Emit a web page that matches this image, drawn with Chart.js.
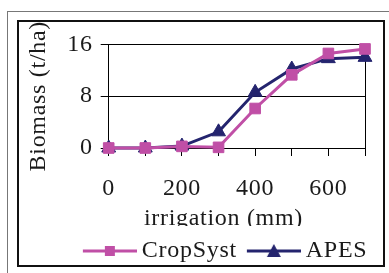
<!DOCTYPE html>
<html>
<head>
<meta charset="utf-8">
<script src="https://cdn.jsdelivr.net/npm/chart.js@4"></script>
<style>
  html, body { margin: 0; padding: 0; background: #fff; }
  body { width: 389px; height: 273px; position: relative; overflow: hidden; }
  /* outer gray frame (top + left only) */
  #outer { position: absolute; left: 7px; top: 11px; width: 400px; height: 300px;
           border-top: 1px solid #777; border-left: 1px solid #777; }
  /* inner black box */
  #box { position: absolute; left: 17px; top: 20px; width: 364px; height: 243px;
         border: 2px solid #111; }
  #box canvas { position: absolute; left: 0; top: 0; }
</style>
</head>
<body>
<div id="outer"></div>
<div id="box"><canvas id="myChart" width="364" height="243"></canvas></div>
<script>
// data
const irrigation = [0, 100, 200, 300, 400, 500, 600, 700];
const cropSyst = [0, 0, 0.25, 0.1, 6.1, 11.3, 14.6, 15.3];
const apes = [0, 0, 0.3, 2.5, 8.6, 12.2, 13.8, 14.0];
const xTickLabels = [0, 200, 400, 600];
const yTickLabels = [0, 8, 16];

const pink = '#c04fa6';
const navy = '#24246e';

Chart.defaults.font.family = "'Liberation Serif', 'Times New Roman', serif";
Chart.defaults.font.size = 24;
Chart.defaults.color = '#1a1a1a';

// legend icon: a line with the marker in the middle
// (the image is wider on the left so the drawn part sits a bit to the right)
function legendIcon(color, style) {
  let c = document.createElement('canvas');
  c.width = 71; c.height = 16;
  let g = c.getContext('2d');
  g.strokeStyle = color; g.lineWidth = 3;
  g.beginPath(); g.moveTo(17, 8); g.lineTo(71, 8); g.stroke();
  g.fillStyle = color;
  if (style === 'rect') {
    g.fillRect(39, 3, 10, 10);
  } else {
    g.beginPath(); g.moveTo(44, 1); g.lineTo(51, 14); g.lineTo(37, 14); g.closePath(); g.fill();
  }
  return c;
}
const icons = [legendIcon(pink, 'rect'), legendIcon(navy, 'triangle')];

// the original text is set a bit wide
const spacing = {
  id: 'spacing',
  beforeLayout(chart) { chart.ctx.letterSpacing = '0.7px'; },
  beforeDraw(chart) { chart.ctx.letterSpacing = '0.7px'; }
};

// hides the lower part of the x title, like in the original
const cutTitle = {
  id: 'cutTitle',
  beforeDatasetsDraw(chart) {
    let ctx = chart.ctx;
    ctx.save();
    ctx.fillStyle = '#fff';
    ctx.fillRect(0, 204, chart.width, 8);
    ctx.restore();
  }
};

let ctx = document.getElementById('myChart').getContext('2d');

new Chart(ctx, {
  type: 'line',
  data: {
    datasets: [{
      label: 'CropSyst',
      data: irrigation.map((x, i) => ({ x: x, y: cropSyst[i] })),
      borderColor: pink,
      backgroundColor: pink,
      borderWidth: 3,
      pointStyle: 'rect',
      pointRadius: 7.5,
      pointHoverRadius: 7.5,
      pointBorderWidth: 1,
      tension: 0,
      clip: false
    }, {
      label: 'APES',
      data: irrigation.map((x, i) => ({ x: x, y: apes[i] })),
      borderColor: navy,
      backgroundColor: navy,
      borderWidth: 3,
      pointStyle: 'triangle',
      pointRadius: 8,
      pointHoverRadius: 8,
      pointBorderWidth: 1,
      tension: 0,
      clip: false
    }]
  },
  options: {
    responsive: false,
    animation: false,
    layout: { padding: { top: 21, right: 15.7, left: 0, bottom: -8 } },
    plugins: {
      tooltip: { enabled: false },
      legend: {
        position: 'bottom',
        align: 'end',
        labels: {
          usePointStyle: true,
          pointStyleWidth: 57,
          boxHeight: 16,
          padding: 0,
          color: '#1a1a1a',
          generateLabels: (chart) => Chart.defaults.plugins.legend.labels.generateLabels(chart)
            .map((item, i) => Object.assign(item, { pointStyle: icons[i] }))
        }
      }
    },
    scales: {
      x: {
        type: 'linear',
        min: 0,
        max: 700,
        afterFit: (scale) => { scale.height = 91; },
        ticks: {
          stepSize: 100,
          padding: 18,
          maxRotation: 0,
          autoSkip: false,
          callback: (v) => xTickLabels.includes(v) ? v : ''
        },
        grid: {
          color: (c) => c.tick && c.tick.value === 700 ? '#000' : 'rgba(0,0,0,0)',
          tickColor: '#000',
          tickLength: 8,
          lineWidth: 1
        },
        border: { display: true, color: '#000', width: 1 },
        title: {
          display: true,
          text: 'irrigation (mm)    ',
          padding: { top: 0, bottom: 6 }
        }
      },
      y: {
        min: 0,
        max: 16,
        afterFit: (scale) => { scale.width = 89.7; },
        ticks: {
          stepSize: 4,
          padding: 8,
          callback: (v) => yTickLabels.includes(v) ? v : ''
        },
        grid: {
          color: (c) => c.tick && c.tick.value % 8 === 0 ? '#000' : 'rgba(0,0,0,0)',
          tickColor: '#000',
          tickLength: 8,
          lineWidth: 1
        },
        border: { display: true, color: '#000', width: 1 },
        title: {
          display: true,
          text: 'Biomass (t/ha)',
          padding: { top: 5, bottom: 0 }
        }
      }
    }
  },
  plugins: [spacing, cutTitle]
});
</script>
</body>
</html>
